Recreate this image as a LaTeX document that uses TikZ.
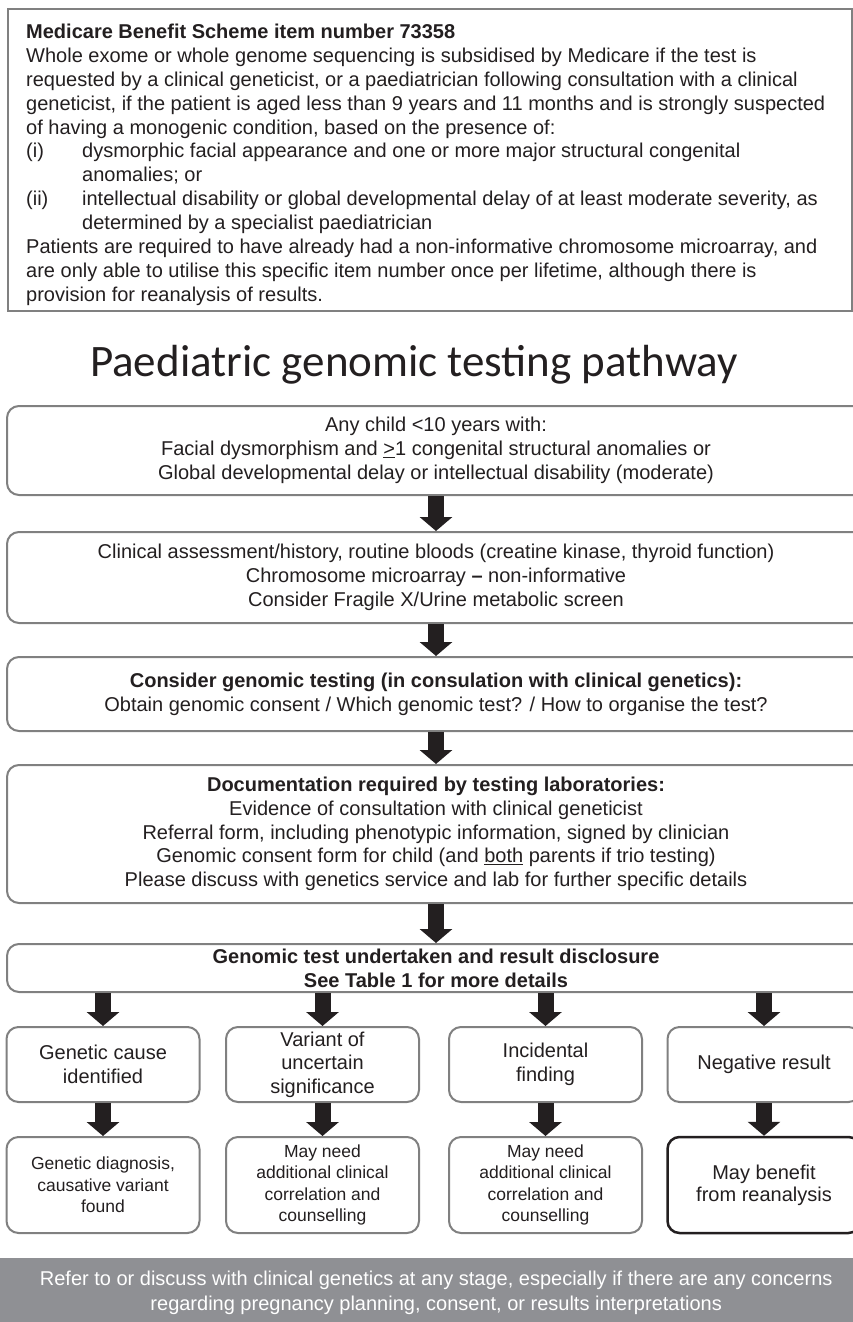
\documentclass[tikz,border=0pt]{standalone}
\usepackage{fontspec}
\setmainfont{Liberation Sans}
\newfontfamily\titlefont{Carlito}
\usetikzlibrary{arrows.meta}
\definecolor{bordergray}{RGB}{128,128,128}
\definecolor{ink}{RGB}{35,31,32}
\definecolor{bannergray}{RGB}{143,144,148}
\begin{document}
\begin{tikzpicture}[x=1pt,y=-1pt,
  flow/.style={draw=bordergray, line width=2pt, rounded corners=12pt, align=center, inner sep=0pt, minimum width=858pt, font=\fontsize{20}{23.7}\selectfont, text=ink},
  res/.style={draw=bordergray, line width=2pt, rounded corners=12pt, align=center, inner sep=0pt, minimum width=193pt, minimum height=75pt, font=\fontsize{20}{23.5}\selectfont, text=ink},
  outc/.style={res, minimum height=96pt, font=\fontsize{17.5}{21.3}\selectfont},
  bigarrow/.style={draw=ink, line width=16pt, -{Triangle[width=32pt,length=14pt]}},
]
\useasboundingbox (0,0) rectangle (853,1322);
\clip (0,0) rectangle (853,1322);
\fill[white] (0,0) rectangle (853,1322);

% Medicare box
\node[draw=bordergray, line width=2pt, minimum width=844pt, minimum height=302pt, inner sep=0pt, anchor=north west] (mbs) at (7,8) {};
\node[anchor=north west, inner sep=0pt, align=left, text=ink, font=\fontsize{20}{23.85}\selectfont] (mbstext) at (26,24) {%
\textbf{Medicare Benefit Scheme item number 73358}\\
Whole exome or whole genome sequencing is subsidised by Medicare if the test is\\
requested by a clinical geneticist, or a paediatrician following consultation with a clinical\\
geneticist, if the patient is aged less than 9 years and 11 months and is strongly suspected\\
of having a monogenic condition, based on the presence of:\\
\makebox[56pt][l]{(i)}dysmorphic facial appearance and one or more major structural congenital\\
\hspace*{56pt}anomalies; or\\
\makebox[56pt][l]{(ii)}intellectual disability or global developmental delay of at least moderate severity, as\\
\hspace*{56pt}determined by a specialist paediatrician\\
Patients are required to have already had a non-informative chromosome microarray, and\\
are only able to utilise this specific item number once per lifetime, although there is\\
provision for reanalysis of results.};

% Title
\node[anchor=base, inner sep=0pt, text=ink, font=\titlefont\fontsize{45}{52}\selectfont] (title) at (414,376) {Paediatric genomic testing pathway};

% Flow boxes
\node[flow, minimum height=89pt] (b1) at (436,450.5) {Any child <10 years with:\\ Facial dysmorphism and \underline{>}1 congenital structural anomalies or\\ Global developmental delay or intellectual disability (moderate)};
\node[flow, minimum height=91pt] (b2) at (436,577.5) {Clinical assessment/history, routine bloods (creatine kinase, thyroid function)\\ Chromosome microarray \textbf{--} non-informative\\ Consider Fragile X/Urine metabolic screen};
\node[flow, minimum height=74pt] (b3) at (436,694) {\textbf{Consider genomic testing (in consulation with clinical genetics):}\\ Obtain genomic consent / Which genomic test? / How to organise the test?};
\node[flow, minimum height=138pt] (b4) at (436,834) {\textbf{Documentation required by testing laboratories:}\\ Evidence of consultation with clinical geneticist\\ Referral form, including phenotypic information, signed by clinician\\ Genomic consent form for child (and \underline{both} parents if trio testing)\\ Please discuss with genetics service and lab for further specific details};
\node[flow, minimum height=48pt] (b5) at (436,968) {\textbf{Genomic test undertaken and result disclosure}\\ \textbf{See Table 1 for more details}};

% Result boxes
\node[res] (r1) at (103,1064.5) {Genetic cause\\ identified};
\node[res] (r2) at (322.5,1064.5) {Variant of\\ uncertain\\ significance};
\node[res] (r3) at (545.5,1064.5) {Incidental\\ finding};
\node[res] (r4) at (764,1064.5) {Negative result};

\node[outc] (o1) at (103,1185) {Genetic diagnosis,\\ causative variant\\ found};
\node[outc] (o2) at (322.5,1185) {May need\\ additional clinical\\ correlation and\\ counselling};
\node[outc] (o3) at (545.5,1185) {May need\\ additional clinical\\ correlation and\\ counselling};
\node[outc, draw=ink, line width=2.5pt, font=\fontsize{20}{22}\selectfont] (o4) at (764,1185) {May benefit\\ from reanalysis};

% Arrows
\draw[bigarrow] (b1.south) -- (b2.north);
\draw[bigarrow] (b2.south) -- (b3.north);
\draw[bigarrow] (b3.south) -- (b4.north);
\draw[bigarrow] (b4.south) -- (b5.north);
\foreach \r in {r1,r2,r3,r4} \draw[bigarrow] (b5.south -| \r.north) -- (\r.north);
\draw[bigarrow] (r1.south) -- (o1.north);
\draw[bigarrow] (r2.south) -- (o2.north);
\draw[bigarrow] (r3.south) -- (o3.north);
\draw[bigarrow] (r4.south) -- (o4.north);

% Banner
\node[fill=bannergray, minimum width=880pt, minimum height=70pt, inner sep=0pt, anchor=north west, text=white, align=center, font=\fontsize{20}{25}\selectfont] (banner) at (-4,1258) {Refer to or discuss with clinical genetics at any stage, especially if there are any concerns\\ regarding pregnancy planning, consent, or results interpretations};
\end{tikzpicture}
\end{document}
